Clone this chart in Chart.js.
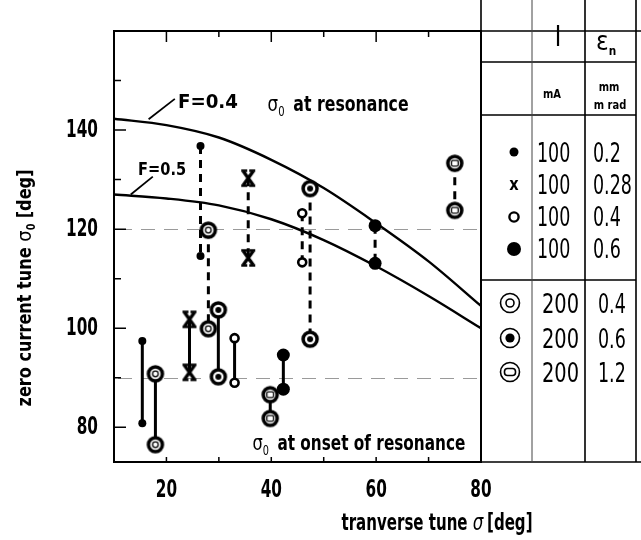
<!DOCTYPE html>
<html>
<head>
<meta charset="utf-8">
<style>
html,body{margin:0;padding:0;background:#fff;overflow:hidden}
canvas{display:block}
</style>
<script src="https://cdn.jsdelivr.net/npm/chart.js@4.4.1/dist/chart.umd.min.js"></script>
</head>
<body>
<canvas id="c" width="641" height="540"></canvas>
<script>
// ---------------- data ----------------
const xTicks = [20, 40, 60, 80];
const yTicks = [80, 100, 120, 140];
const xMinorTicks = [30, 50, 70];
const yMinorTicks = [90, 110, 130, 150];
const guideLevels = [90, 120];

// resonance curves (sigma_0 vs sigma)
const curveTune = [10, 20, 30, 40, 50, 60, 70, 80];
const curveF04 = [142.3, 141.0, 138.5, 134.0, 128.3, 121.2, 113.5, 104.5];
const curveF05 = [127.0, 126.2, 124.8, 122.0, 117.8, 112.5, 106.5, 100.0];

// measured pairs: tune, upper sigma_0, lower sigma_0, beam (I/eps), at resonance (dashed)
const pairTune = [15.4, 17.9, 24.4, 26.5, 28.0, 29.9, 33.0, 35.6, 39.8, 42.3, 45.9, 47.4, 59.8, 75.0];
const pairHigh = [97.4, 90.8, 101.8, 136.8, 119.8, 103.7, 98.0, 130.3, 86.6, 94.6, 123.2, 128.2, 120.7, 133.3];
const pairLow  = [80.8, 76.5, 91.1, 114.6, 99.9, 90.2, 89.0, 114.2, 81.8, 87.7, 113.3, 97.8, 113.1, 123.8];
const pairBeam = ['100/0.2','200/0.4','100/0.28','100/0.2','200/0.4','200/0.6','100/0.4','100/0.28','200/1.2','100/0.6','100/0.4','200/0.6','100/0.6','200/1.2'];
const pairAtResonance = [false,false,false,true,true,false,false,true,false,false,true,true,true,true];

// legend table
const tableBeam = ['100/0.2','100/0.28','100/0.4','100/0.6','200/0.4','200/0.6','200/1.2'];
const tableCurrent = ['100','100','100','100','200','200','200'];
const tableEmittance = ['0.2','0.28','0.4','0.6','0.4','0.6','1.2'];

// ---------------- styles ----------------
const COND = "'DejaVu Sans Condensed','DejaVu Sans',sans-serif";
const GREEK = "'DejaVu Sans',sans-serif";
const TICK_SX = 0.68;

function mk(w, h, fn) {
  const c = document.createElement('canvas'); c.width = w; c.height = h;
  const g = c.getContext('2d'); fn(g); return c;
}
function ring(inner) {
  return mk(22, 22, g => {
    g.beginPath(); g.arc(11, 11, 7, 0, Math.PI * 2);
    g.fillStyle = '#fff'; g.fill();
    g.lineWidth = 3.5; g.strokeStyle = '#000'; g.stroke();
    g.lineWidth = 1.3;
    if (inner === 'ring') { g.beginPath(); g.arc(11, 11, 2.8, 0, Math.PI * 2); g.stroke(); }
    if (inner === 'dot') { g.beginPath(); g.arc(11, 11, 3, 0, Math.PI * 2); g.fillStyle = '#000'; g.fill(); }
    if (inner === 'square') { g.beginPath(); g.roundRect(7.6, 8.2, 6.8, 5.6, 1.5); g.stroke(); }
  });
}
const xMark = mk(18, 20, g => {
  g.strokeStyle = '#000'; g.lineWidth = 3.4; g.lineCap = 'butt';
  g.beginPath(); g.moveTo(4, 3); g.lineTo(14, 17); g.moveTo(14, 3); g.lineTo(4, 17); g.stroke();
  g.lineWidth = 2.4;
  g.beginPath(); g.moveTo(2, 2.5); g.lineTo(8, 2.5); g.moveTo(10, 2.5); g.lineTo(16, 2.5);
  g.moveTo(2, 17.5); g.lineTo(8, 17.5); g.moveTo(10, 17.5); g.lineTo(16, 17.5); g.stroke();
});
const markerStyle = {
  '100/0.2':  { pointStyle: 'circle', radius: 4, bg: '#000', bw: 0 },
  '100/0.28': { pointStyle: xMark, radius: 8, bg: '#000', bw: 0 },
  '100/0.4':  { pointStyle: 'circle', radius: 4, bg: '#fff', bw: 2.6 },
  '100/0.6':  { pointStyle: 'circle', radius: 6.5, bg: '#000', bw: 0 },
  '200/0.4':  { pointStyle: ring('ring'), radius: 9, bg: '#fff', bw: 0 },
  '200/0.6':  { pointStyle: ring('dot'), radius: 9, bg: '#fff', bw: 0 },
  '200/1.2':  { pointStyle: ring('square'), radius: 9, bg: '#fff', bw: 0 }
};

// ---------------- datasets ----------------
const datasets = [];
[curveF04, curveF05].forEach(c => {
  datasets.push({
    type: 'line', data: curveTune.map((x, i) => ({ x, y: c[i] })),
    borderColor: '#000', borderWidth: 2.4, pointRadius: 0,
    cubicInterpolationMode: 'monotone', fill: false, order: 5
  });
});
pairTune.forEach((x, i) => {
  const m = markerStyle[pairBeam[i]];
  datasets.push({
    type: 'line',
    data: [{ x, y: pairHigh[i] }, { x, y: pairLow[i] }],
    borderColor: '#000', borderWidth: 3,
    borderDash: pairAtResonance[i] ? [8, 6] : [],
    pointStyle: m.pointStyle, pointRadius: m.radius,
    pointBackgroundColor: m.bg, pointBorderColor: '#000', pointBorderWidth: m.bw,
    fill: false, order: 1
  });
});

// ---------------- drawing helpers ----------------
// draw text runs, horizontally compressed to a target width (or by factor sx)
function runs(ctx, x, y, parts, align, target, sx) {
  let total = 0;
  parts.forEach(p => { ctx.font = p.font; p.w = ctx.measureText(p.text).width; total += p.w + (p.gap || 0); });
  const k = target ? target / total : (sx || 1);
  const w = total * k;
  let start = align === 'center' ? x - w / 2 : (align === 'right' ? x - w : x);
  ctx.save();
  ctx.textAlign = 'left';
  ctx.translate(start, y);
  ctx.scale(k, 1);
  let cx = 0;
  parts.forEach(p => { ctx.font = p.font; ctx.fillText(p.text, cx, p.dy || 0); cx += p.w + (p.gap || 0); });
  ctx.restore();
}
// narrow the library's own tick labels
function narrowTickLabels(scale, sx) {
  if (scale._narrowed) return;
  scale._narrowed = true;
  scale.drawLabels = function (chartArea) {
    if (!this.options.ticks.display) return;
    const ctx = this.ctx;
    const items = this.getLabelItems(chartArea);
    for (const item of items) {
      const o = item.options;
      ctx.save();
      ctx.translate(o.translation[0], o.translation[1]);
      ctx.scale(sx, 1);
      ctx.font = item.font.string;
      ctx.fillStyle = o.color;
      ctx.textAlign = o.textAlign;
      ctx.textBaseline = o.textBaseline;
      ctx.fillText(item.label, 0, item.textOffset);
      ctx.restore();
    }
  };
}

const decor = {
  id: 'decor',
  beforeDraw(chart) {
    const ctx = chart.ctx;
    narrowTickLabels(chart.scales.x, TICK_SX);
    narrowTickLabels(chart.scales.y, TICK_SX);
    ctx.save(); ctx.fillStyle = '#fff'; ctx.fillRect(0, 0, chart.width, chart.height); ctx.restore();
  },
  beforeDatasetsDraw(chart) {
    const ctx = chart.ctx, a = chart.chartArea, ys = chart.scales.y;
    ctx.save();
    ctx.strokeStyle = '#9a9a9a'; ctx.lineWidth = 1; ctx.setLineDash([14, 9]);
    guideLevels.forEach(v => {
      const py = Math.round(ys.getPixelForValue(v)) + 0.5;
      ctx.beginPath(); ctx.moveTo(a.left + 4, py); ctx.lineTo(a.right - 4, py); ctx.stroke();
    });
    ctx.restore();
  },
  afterDraw(chart) {
    const ctx = chart.ctx, a = chart.chartArea, xs = chart.scales.x, ys = chart.scales.y;
    ctx.save();
    ctx.strokeStyle = '#000'; ctx.fillStyle = '#000';
    // frame
    ctx.lineWidth = 2;
    ctx.strokeRect(a.left, a.top, a.right - a.left, a.bottom - a.top);
    // ticks
    ctx.lineWidth = 1.5;
    ctx.beginPath();
    yTicks.forEach(v => { const p = ys.getPixelForValue(v); ctx.moveTo(a.left, p); ctx.lineTo(a.left + 12, p); });
    yMinorTicks.forEach(v => { const p = ys.getPixelForValue(v); ctx.moveTo(a.left, p); ctx.lineTo(a.left + 7, p); });
    xTicks.forEach(v => { const p = xs.getPixelForValue(v); ctx.moveTo(p, a.top); ctx.lineTo(p, a.top + 11); ctx.moveTo(p, a.bottom); ctx.lineTo(p, a.bottom - 5); });
    xMinorTicks.forEach(v => { const p = xs.getPixelForValue(v); ctx.moveTo(p, a.top); ctx.lineTo(p, a.top + 6); ctx.moveTo(p, a.bottom); ctx.lineTo(p, a.bottom - 5); });
    ctx.stroke();

    // table (legend)
    const L = a.right, c1 = L + 51, c2 = L + 104, R = L + 155;
    ctx.lineWidth = 1.6;
    ctx.beginPath();
    ctx.moveTo(L, 0); ctx.lineTo(L, a.bottom);
    ctx.moveTo(c2, 0); ctx.lineTo(c2, a.bottom);
    ctx.moveTo(R, 0); ctx.lineTo(R, a.bottom);
    ctx.moveTo(a.right, a.top); ctx.lineTo(chart.width, a.top);
    ctx.moveTo(a.right, a.bottom); ctx.lineTo(chart.width, a.bottom);
    ctx.moveTo(L, 62); ctx.lineTo(R, 62);
    ctx.moveTo(L, 115); ctx.lineTo(R, 115);
    ctx.moveTo(L, 280); ctx.lineTo(R, 280);
    ctx.stroke();
    ctx.lineWidth = 1; ctx.strokeStyle = '#444';
    ctx.beginPath(); ctx.moveTo(c1, 0); ctx.lineTo(c1, a.bottom); ctx.stroke();
    ctx.strokeStyle = '#000';

    ctx.textBaseline = 'alphabetic';
    ctx.textAlign = 'left';
    // header
    runs(ctx, L + 77, 46, [{ text: 'I', font: `29px ${COND}` }], 'center', null, 0.85);
    runs(ctx, L + 115, 50, [
      { text: 'ε', font: `26px ${GREEK}` },
      { text: 'n', font: `bold 13px ${COND}`, dy: 5, gap: 0 }
    ], 'left', null, 0.9);
    runs(ctx, L + 71, 98, [{ text: 'mA', font: `bold 13px ${COND}` }], 'center', null, 0.85);
    runs(ctx, L + 128, 91, [{ text: 'mm', font: `bold 13px ${COND}` }], 'center', null, 0.85);
    runs(ctx, L + 129, 109, [{ text: 'm rad', font: `bold 13px ${COND}` }], 'center', null, 0.85);

    // rows
    const rowY = [152, 184, 216, 248, 303, 338, 372];
    tableBeam.forEach((b, i) => {
      const y = rowY[i], sx = i < 4 ? L + 33 : L + 29;
      runs(ctx, i < 4 ? L + 56 : L + 61, y + 10, [{ text: tableCurrent[i], font: `27px ${COND}` }], 'left', null, i < 4 ? 0.72 : 0.8);
      runs(ctx, i < 4 ? L + 112 : L + 117, y + 10, [{ text: tableEmittance[i], font: `27px ${COND}` }], 'left', null, 0.72);
      // symbol
      ctx.lineWidth = 1.4;
      if (b === '100/0.2') { ctx.beginPath(); ctx.arc(sx, y, 4.5, 0, Math.PI * 2); ctx.fill(); }
      if (b === '100/0.28') { runs(ctx, sx, y + 6, [{ text: 'x', font: `bold 18px ${COND}` }], 'center', null, 0.9); }
      if (b === '100/0.4') { ctx.lineWidth = 2.4; ctx.beginPath(); ctx.arc(sx, y + 1, 4.6, 0, Math.PI * 2); ctx.stroke(); }
      if (b === '100/0.6') { ctx.beginPath(); ctx.arc(sx, y + 1, 7, 0, Math.PI * 2); ctx.fill(); }
      if (b.startsWith('200')) {
        ctx.lineWidth = 1.6;
        ctx.beginPath(); ctx.arc(sx, y, 9.5, 0, Math.PI * 2); ctx.stroke();
        if (b === '200/0.4') { ctx.beginPath(); ctx.arc(sx, y, 4, 0, Math.PI * 2); ctx.stroke(); }
        if (b === '200/0.6') { ctx.beginPath(); ctx.arc(sx, y, 4.6, 0, Math.PI * 2); ctx.fill(); }
        if (b === '200/1.2') { ctx.beginPath(); ctx.roundRect(sx - 5.5, y - 3.5, 11, 7, 3); ctx.stroke(); }
      }
    });

    // annotations
    ctx.lineWidth = 1.8;
    const P = (x, y) => [xs.getPixelForValue(x), ys.getPixelForValue(y)];
    let p1 = P(16.6, 142.2), p2 = P(21.6, 146.3);
    ctx.beginPath(); ctx.moveTo(p1[0], p1[1]); ctx.lineTo(p2[0], p2[1]); ctx.stroke();
    let t = P(22.2, 145.9);
    runs(ctx, t[0], t[1] + 7, [{ text: 'F=0.4', font: `bold 19px ${COND}` }], 'left', 60);
    p1 = P(13.2, 127.0); p2 = P(17.4, 130.6);
    ctx.beginPath(); ctx.moveTo(p1[0], p1[1]); ctx.lineTo(p2[0], p2[1]); ctx.stroke();
    t = P(14.6, 132.4);
    runs(ctx, t[0], t[1] + 7, [{ text: 'F=0.5', font: `bold 18px ${COND}` }], 'left', 48);

    t = P(39.3, 145.5);
    runs(ctx, t[0], t[1] + 8, [
      { text: 'σ', font: `21px ${GREEK}` },
      { text: '0', font: `14px ${COND}`, dy: 5, gap: 11 },
      { text: 'at resonance', font: `bold 22px ${COND}` }
    ], 'left', 141);
    t = P(36.4, 77.0);
    runs(ctx, t[0], t[1] + 8, [
      { text: 'σ', font: `21px ${GREEK}` },
      { text: '0', font: `14px ${COND}`, dy: 5, gap: 11 },
      { text: 'at onset of resonance', font: `bold 22px ${COND}` }
    ], 'left', 213);

    // axis titles
    runs(ctx, 437, 530, [
      { text: 'tranverse tune ', font: `bold 23px ${COND}` },
      { text: 'σ', font: `italic 23px ${GREEK}`, gap: 5 },
      { text: '[deg]', font: `bold 23px ${COND}` }
    ], 'center', 191);
    ctx.translate(31, 288);
    ctx.rotate(-Math.PI / 2);
    runs(ctx, 0, 0, [
      { text: 'zero current tune ', font: `bold 20px ${COND}` },
      { text: 'σ', font: `20px ${GREEK}` },
      { text: '0', font: `bold 12px ${COND}`, dy: 4, gap: 6 },
      { text: '[deg]', font: `bold 20px ${COND}` }
    ], 'center', 237);
    ctx.restore();
  }
};

new Chart(document.getElementById('c'), {
  data: { datasets },
  options: {
    responsive: false,
    animation: false,
    devicePixelRatio: 1,
    layout: { padding: { left: 0, top: 7, right: 160, bottom: 0 } },
    plugins: { legend: { display: false }, tooltip: { enabled: false } },
    scales: {
      x: {
        type: 'linear', min: 10, max: 80,
        afterBuildTicks: s => { s.ticks = xTicks.map(v => ({ value: v })); },
        afterFit: s => { s.height = 78; },
        grid: { display: false, drawTicks: false },
        border: { display: false },
        ticks: { color: '#000', padding: 13, font: { family: COND, size: 25, weight: 'bold' } }
      },
      y: {
        type: 'linear', min: 73, max: 160,
        afterBuildTicks: s => { s.ticks = yTicks.map(v => ({ value: v })); },
        afterFit: s => { s.width = 114; },
        grid: { display: false, drawTicks: false },
        border: { display: false },
        ticks: { color: '#000', padding: 16, font: { family: COND, size: 25, weight: 'bold' } }
      }
    }
  },
  plugins: [decor]
});
</script>
</body>
</html>
